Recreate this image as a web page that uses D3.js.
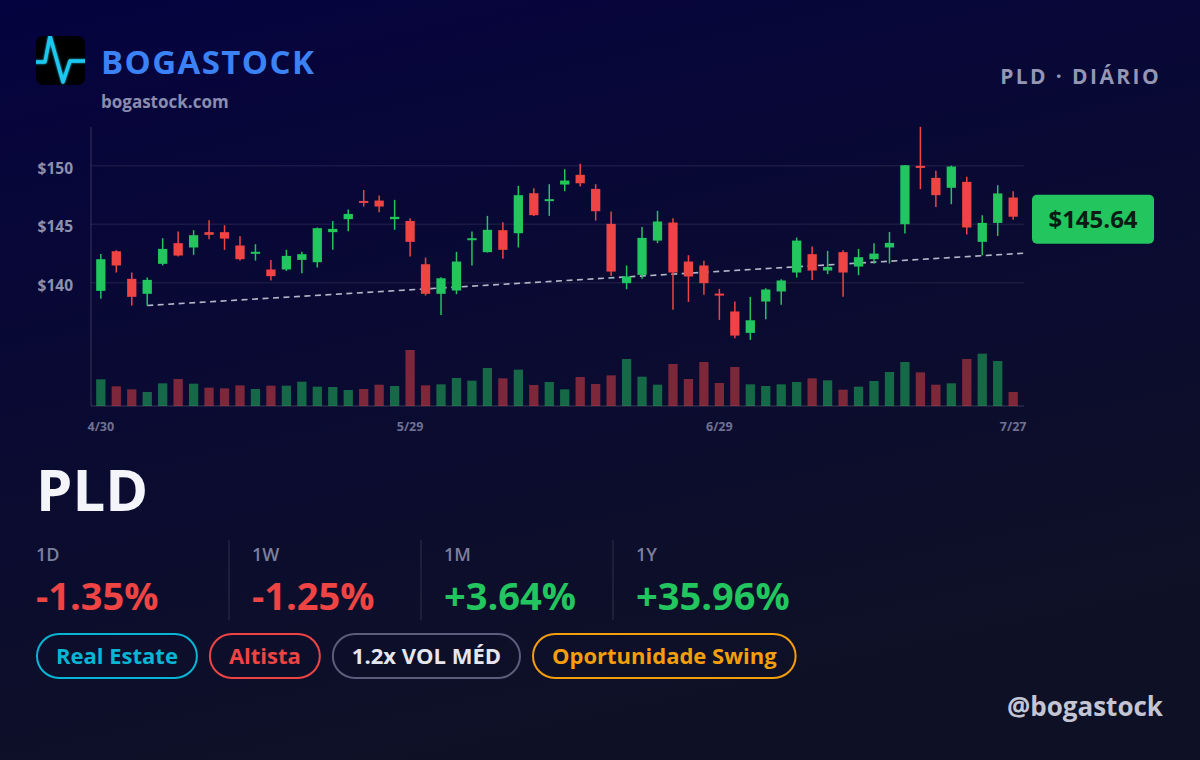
<!DOCTYPE html>
<html>
<head>
<meta charset="utf-8">
<script src="https://cdn.jsdelivr.net/npm/d3@7"></script>
<style>
  html, body { margin: 0; padding: 0; background: #080a33; }
  svg { display: block; font-family: "Open Sans", "Noto Sans", sans-serif; }
</style>
</head>
<body>
<div id="card"></div>
<script>
// daily candles, 4/30 .. 7/27
var opens = [139.30,142.69,140.33,139.05,141.61,143.38,143.01,144.32,144.32,143.18,
  142.52,141.13,141.13,141.95,141.75,144.32,145.43,146.99,147.02,145.43,
  145.28,141.58,139.05,139.33,143.66,142.61,144.49,144.23,147.65,147.02,
  148.39,149.22,148.02,145.03,139.96,140.67,143.60,145.14,141.81,141.47,
  139.07,137.54,135.71,138.39,139.25,140.87,142.44,141.04,142.61,141.38,
  142.01,143.01,145.00,149.99,148.96,148.11,148.62,143.49,145.11,147.28];
var highs = [142.46,142.78,140.87,140.44,143.80,144.37,144.49,145.34,144.91,143.97,
  143.29,141.95,142.81,142.64,144.72,145.28,146.25,147.93,147.45,147.08,
  145.51,142.15,140.47,142.64,144.37,145.71,145.17,148.28,148.08,148.42,
  149.70,150.16,148.42,146.08,141.47,144.77,146.14,145.51,142.35,141.87,
  139.47,138.39,138.79,139.53,140.30,143.86,143.09,142.72,142.78,142.89,
  143.38,144.34,150.07,153.32,149.56,150.01,149.05,145.77,148.33,147.82];
var lows = [138.62,140.87,138.05,138.05,141.47,142.24,142.38,143.72,142.81,141.89,
  141.89,140.19,141.01,140.81,141.30,142.81,144.40,146.51,146.03,144.52,
  142.24,138.90,137.25,139.02,141.47,142.58,142.04,143.01,145.71,145.71,
  147.82,148.22,145.31,140.58,139.44,140.33,143.38,137.68,138.36,138.96,
  136.82,135.26,135.11,136.88,138.11,140.44,140.24,140.73,138.79,140.64,
  141.61,141.64,144.20,147.99,146.48,146.71,144.12,142.35,144.00,145.37];
var closes = [142.01,141.47,138.79,140.24,142.89,142.32,144.06,144.09,143.77,142.01,
  142.64,140.56,142.29,142.44,144.66,144.60,145.88,146.88,146.51,145.63,
  143.49,139.05,140.38,141.81,143.80,144.52,142.81,147.48,145.77,147.14,
  148.73,148.50,146.11,140.95,140.53,143.83,145.23,140.87,140.53,139.96,
  138.90,135.48,136.79,139.42,140.19,143.60,141.04,141.35,140.87,142.18,
  142.49,143.40,150.04,149.81,147.48,149.93,144.72,145.11,147.63,145.64];
// volume, millions
var volumes = [4.00,2.95,2.50,2.10,3.40,4.05,3.35,2.75,2.65,3.10,
  2.55,3.05,3.05,3.65,2.90,2.85,2.40,2.55,3.20,3.00,
  8.40,3.10,3.25,4.20,3.80,5.70,4.15,5.45,3.15,3.60,
  2.50,4.35,3.30,4.60,7.05,4.40,3.20,6.30,4.05,6.60,
  3.45,5.85,3.25,3.00,3.25,3.60,4.15,3.85,2.45,2.90,
  3.75,5.10,6.60,5.05,3.20,3.40,7.05,7.85,6.75,2.10];

var dateTicks = [0, 20, 40, 59];
var dateLabels = ["4/30", "5/29", "6/29", "7/27"];
var priceTicks = [140, 145, 150];

// support line: start candle + price, price at right edge
var trendStart = [3, 138.05];
var trendEndPrice = 142.52;

var ticker = "PLD";
var statLabels = ["1D", "1W", "1M", "1Y"];
var statValues = [-1.35, -1.25, 3.64, 35.96];
var tagLabels = ["Real Estate", "Altista", "1.2x VOL MÉD", "Oportunidade Swing"];
var tagColors = ["#06b6d4", "#ef4444", "#5b5d7a", "#f59e0b"];
var tagTextColors = ["#06b6d4", "#ef4444", "#e5e7f0", "#f59e0b"];

var W = 1200, H = 760;
var up = "#22c55e", down = "#ef4444";

var svg = d3.select("#card").append("svg")
    .attr("width", W)
    .attr("height", H);

var defs = svg.append("defs");
var bg = defs.append("linearGradient").attr("id", "bg")
    .attr("x1", 0).attr("y1", 0).attr("x2", 0.35).attr("y2", 1);
bg.append("stop").attr("offset", 0).attr("stop-color", "#05033f");
bg.append("stop").attr("offset", 1).attr("stop-color", "#0e1126");

svg.append("rect").attr("width", W).attr("height", H).attr("fill", "url(#bg)");

// ---- header
defs.append("clipPath").attr("id", "logoClip")
    .append("rect").attr("x", 36).attr("y", 36).attr("width", 49).attr("height", 49).attr("rx", 7);
var glow = defs.append("filter").attr("id", "glow")
    .attr("x", -0.3).attr("y", -0.3).attr("width", 1.6).attr("height", 1.6);
glow.append("feGaussianBlur").attr("stdDeviation", 1.2).attr("result", "b");
var gm = glow.append("feMerge");
gm.append("feMergeNode").attr("in", "b");
gm.append("feMergeNode").attr("in", "SourceGraphic");

var logo = svg.append("g");
logo.append("rect").attr("x", 36).attr("y", 36).attr("width", 49).attr("height", 49).attr("rx", 7)
    .attr("fill", "#000");
logo.append("g").attr("clip-path", "url(#logoClip)")
    .append("path")
    .attr("d", "M34,62 L45,62 L50,36 L63,82 L70,61 L88,61")
    .attr("fill", "none")
    .attr("stroke", "#1ec8f0")
    .attr("stroke-width", 3.5)
    .attr("stroke-linejoin", "round")
    .attr("filter", "url(#glow)");

svg.append("text").attr("x", 101).attr("y", 74)
    .text("BOGASTOCK")
    .attr("fill", "#3b82f6")
    .attr("font-size", 33).attr("font-weight", 700)
    .attr("letter-spacing", 1.4);
svg.append("text").attr("x", 101).attr("y", 108)
    .text("bogastock.com")
    .attr("fill", "#8b8db0")
    .attr("font-size", 17).attr("font-weight", 700);
svg.append("text").attr("x", 1161).attr("y", 84)
    .attr("text-anchor", "end")
    .text(ticker + " · DIÁRIO")
    .attr("fill", "#9496b4")
    .attr("font-size", 21).attr("font-weight", 700)
    .attr("letter-spacing", 2.4);

// ---- chart
var left = 90, right = 1024, volBase = 406;

var x = d3.scaleBand()
    .domain(d3.range(closes.length))
    .range([left, right])
    .padding(0.4);
var cx = function (i) { return x(i) + x.bandwidth() / 2; };

var y = d3.scaleLinear().domain([140, 150]).range([282.7, 165.7]);
var yVol = d3.scaleLinear().domain([0, d3.max(volumes)]).range([volBase, 350]);

var chart = svg.append("g");

chart.append("g").selectAll("line")
    .data(priceTicks)
    .join("line")
    .attr("x1", left + 1).attr("x2", right)
    .attr("y1", d => y(d)).attr("y2", d => y(d))
    .attr("stroke", "#ffffff").attr("stroke-opacity", 0.07)
    .attr("stroke-width", 1.5);

chart.append("g").selectAll("text")
    .data(priceTicks)
    .join("text")
    .attr("x", 73).attr("y", d => y(d) + 8)
    .attr("text-anchor", "end")
    .attr("fill", "#8e90ae")
    .attr("font-size", 15.5).attr("font-weight", 700)
    .text(d => "$" + d);

chart.append("line")
    .attr("x1", left + 1).attr("x2", left + 1)
    .attr("y1", 127).attr("y2", volBase)
    .attr("stroke", "#ffffff").attr("stroke-opacity", 0.18);
chart.append("line")
    .attr("x1", left + 1).attr("x2", right)
    .attr("y1", volBase).attr("y2", volBase)
    .attr("stroke", "#ffffff").attr("stroke-opacity", 0.18);

// volume
chart.append("g").selectAll("rect")
    .data(volumes)
    .join("rect")
    .attr("x", (d, i) => x(i))
    .attr("width", x.bandwidth())
    .attr("y", d => yVol(d))
    .attr("height", d => volBase - yVol(d))
    .attr("fill", (d, i) => closes[i] >= opens[i] ? up : down)
    .attr("fill-opacity", 0.5);

// trend line
chart.append("line")
    .attr("x1", cx(trendStart[0])).attr("y1", y(trendStart[1]))
    .attr("x2", right).attr("y2", y(trendEndPrice))
    .attr("stroke", "#b4b6c8")
    .attr("stroke-width", 1.6)
    .attr("stroke-dasharray", "6,4.5");

// candles
var candle = chart.append("g").selectAll("g")
    .data(closes)
    .join("g");
candle.append("line")
    .attr("x1", (d, i) => cx(i)).attr("x2", (d, i) => cx(i))
    .attr("y1", (d, i) => y(highs[i])).attr("y2", (d, i) => y(lows[i]))
    .attr("stroke", (d, i) => d >= opens[i] ? up : down)
    .attr("stroke-width", 1.5);
candle.append("rect")
    .attr("x", (d, i) => x(i))
    .attr("width", x.bandwidth())
    .attr("y", (d, i) => y(Math.max(d, opens[i])))
    .attr("height", (d, i) => Math.max(2, Math.abs(y(d) - y(opens[i]))))
    .attr("fill", (d, i) => d >= opens[i] ? up : down);

// date axis
chart.append("g").selectAll("text")
    .data(dateTicks)
    .join("text")
    .attr("x", d => cx(d)).attr("y", 431)
    .attr("text-anchor", "middle")
    .attr("fill", "#6f7192")
    .attr("font-size", 12.5).attr("font-weight", 700)
    .text((d, i) => dateLabels[i]);

// last price tag
var last = closes[closes.length - 1];
var tag = chart.append("g").attr("transform", "translate(1032," + (y(last) - 22) + ")");
tag.append("rect").attr("width", 122).attr("height", 49).attr("rx", 5).attr("fill", up);
tag.append("text").attr("x", 61).attr("y", 33)
    .attr("text-anchor", "middle")
    .attr("fill", "#0b1a14")
    .attr("font-size", 24).attr("font-weight", 700)
    .text("$" + last.toFixed(2));

// ---- bottom block
svg.append("text").attr("x", 36).attr("y", 511)
    .text(ticker)
    .attr("fill", "#f4f5fb")
    .attr("font-size", 58).attr("font-weight", 700);

var statX = [36, 252, 444, 636];
var stats = svg.append("g");
stats.selectAll("line")
    .data(statX.slice(1))
    .join("line")
    .attr("x1", d => d - 23).attr("x2", d => d - 23)
    .attr("y1", 540).attr("y2", 620)
    .attr("stroke", "#ffffff").attr("stroke-opacity", 0.14);
stats.selectAll(".lbl")
    .data(statLabels)
    .join("text").attr("class", "lbl")
    .attr("x", (d, i) => statX[i]).attr("y", 561)
    .attr("fill", "#7d7f9c")
    .attr("font-size", 18).attr("font-weight", 600)
    .text(d => d);
stats.selectAll(".val")
    .data(statValues)
    .join("text").attr("class", "val")
    .attr("x", (d, i) => statX[i]).attr("y", 610)
    .attr("fill", d => d >= 0 ? up : down)
    .attr("font-size", 38).attr("font-weight", 700)
    .text(d => (d >= 0 ? "+" : "") + d.toFixed(2) + "%");

// tags
var px = 36;
tagLabels.forEach(function (t, i) {
    var g = svg.append("g");
    var txt = g.append("text")
        .attr("y", 664)
        .attr("fill", tagTextColors[i])
        .attr("font-size", 22).attr("font-weight", 700)
        .text(t);
    var w = txt.node().getComputedTextLength() + 40;
    txt.attr("x", px + 20);
    g.insert("rect", "text")
        .attr("x", px + 1).attr("y", 634)
        .attr("width", w - 2).attr("height", 44)
        .attr("rx", 22)
        .attr("fill", "none")
        .attr("stroke", tagColors[i])
        .attr("stroke-width", 2);
    px += w + 11;
});

svg.append("text").attr("x", 1163).attr("y", 716)
    .attr("text-anchor", "end")
    .text("@bogastock")
    .attr("fill", "#c3c5d3")
    .attr("font-size", 26).attr("font-weight", 700);
</script>
</body>
</html>
